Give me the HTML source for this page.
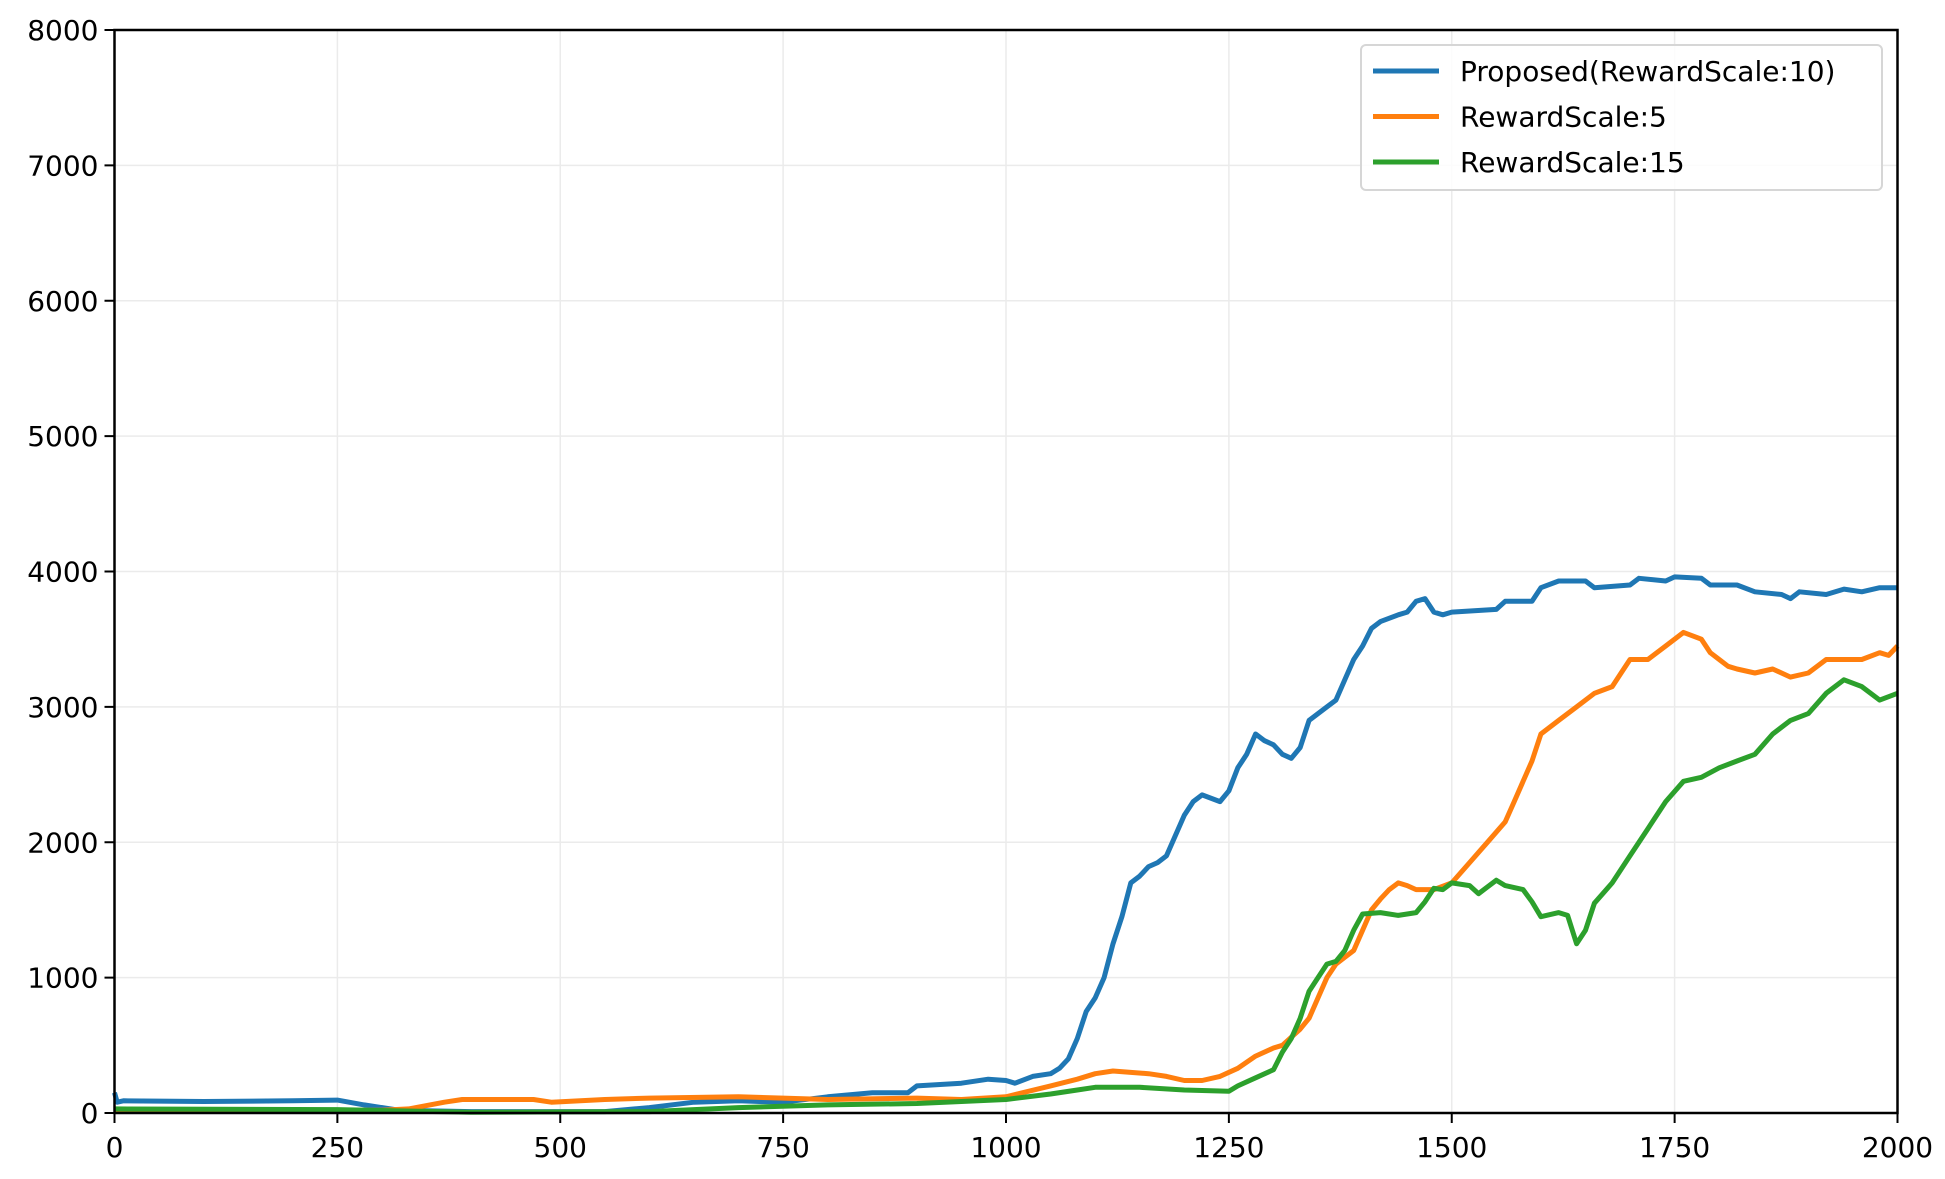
<!DOCTYPE html>
<html><head><meta charset="utf-8"><style>
html,body{margin:0;padding:0;background:#fff;}
svg{display:block;font-family:"DejaVu Sans","Liberation Sans",sans-serif;}
</style></head><body>
<svg id="chart" width="1945" height="1179" viewBox="0 0 1945 1179" xmlns="http://www.w3.org/2000/svg">
<g id="grid"></g>
<g id="series"></g>
<rect x="114.5" y="30" width="1783" height="1083" fill="none" stroke="#000" stroke-width="2.5"/>
<g id="ticks"></g>
<g id="legend"></g>
</svg>
<script>
const xTicks=[0,250,500,750,1000,1250,1500,1750,2000];
const yTicks=[0,1000,2000,3000,4000,5000,6000,7000,8000];
const seriesNames=["Proposed(RewardScale:10)","RewardScale:5","RewardScale:15"];
const blueX=[0,3,10,100,200,250,280,320,400,500,550,600,650,700,750,800,850,890,900,950,980,1000,1010,1030,1050,1060,1070,1080,1090,1100,1110,1120,1130,1140,1150,1160,1170,1180,1190,1200,1210,1220,1240,1250,1260,1270,1280,1290,1300,1310,1320,1330,1340,1350,1360,1370,1380,1390,1400,1410,1420,1440,1450,1460,1470,1480,1490,1500,1550,1560,1590,1600,1620,1650,1660,1700,1710,1740,1750,1780,1790,1820,1840,1870,1880,1890,1920,1940,1960,1980,2000];
const blueY=[150,80,90,85,90,95,60,20,10,10,10,40,80,90,80,120,150,150,200,220,250,240,220,270,290,330,400,550,750,850,1000,1250,1450,1700,1750,1820,1850,1900,2050,2200,2300,2350,2300,2380,2550,2650,2800,2750,2720,2650,2620,2700,2900,2950,3000,3050,3200,3350,3450,3580,3630,3680,3700,3780,3800,3700,3680,3700,3720,3780,3780,3880,3930,3930,3880,3900,3950,3930,3960,3950,3900,3900,3850,3830,3800,3850,3830,3870,3850,3880,3880];
const orangeX=[0,300,330,370,390,470,490,550,600,700,750,800,900,950,1000,1050,1080,1100,1120,1140,1160,1180,1200,1220,1240,1260,1280,1300,1310,1320,1330,1340,1350,1360,1370,1380,1390,1400,1410,1420,1430,1440,1450,1460,1480,1500,1520,1540,1560,1570,1580,1590,1600,1620,1640,1660,1680,1690,1700,1720,1740,1760,1780,1790,1800,1810,1820,1840,1860,1880,1900,1920,1940,1960,1980,1990,2000];
const orangeY=[20,20,30,80,100,100,80,100,110,120,110,100,110,100,120,200,250,290,310,300,290,270,240,240,270,330,420,480,500,560,620,700,850,1000,1100,1150,1200,1350,1500,1580,1650,1700,1680,1650,1650,1700,1850,2000,2150,2300,2450,2600,2800,2900,3000,3100,3150,3250,3350,3350,3450,3550,3500,3400,3350,3300,3280,3250,3280,3220,3250,3350,3350,3350,3400,3380,3450];
const greenX=[0,250,400,600,700,800,900,1000,1050,1080,1100,1150,1200,1250,1260,1280,1300,1310,1320,1330,1340,1350,1360,1370,1380,1390,1400,1420,1440,1460,1470,1480,1490,1500,1520,1530,1550,1560,1580,1590,1600,1620,1630,1640,1650,1660,1680,1700,1720,1740,1760,1780,1800,1820,1840,1860,1880,1900,1920,1940,1960,1980,2000];
const greenY=[30,25,5,10,40,60,70,100,140,170,190,190,170,160,200,260,320,450,550,700,900,1000,1100,1120,1200,1350,1470,1480,1460,1480,1560,1660,1650,1700,1680,1620,1720,1680,1650,1560,1450,1480,1460,1250,1350,1550,1700,1900,2100,2300,2450,2480,2550,2600,2650,2800,2900,2950,3100,3200,3150,3050,3100];
const colors=["#1f77b4","#ff7f0e","#2ca02c"];
const X0=114.5,X1=1897.5,Y0=1113,Y1=30;
const sx=v=>X0+(v-0)/(2000-0)*(X1-X0);
const sy=v=>Y0-(v-0)/(8000-0)*(Y0-Y1);
const NS="http://www.w3.org/2000/svg";
function mk(t,a,p){const e=document.createElementNS(NS,t);for(const k in a)e.setAttribute(k,a[k]);p.appendChild(e);return e;}
const grid=document.getElementById('grid'),ticks=document.getElementById('ticks'),ser=document.getElementById('series'),leg=document.getElementById('legend');
xTicks.forEach(v=>{const x=sx(v);
 const g=mk('line',{x1:x,x2:x,y1:Y1,y2:Y0,stroke:'#ebebeb','stroke-width':1.5},grid);
 
 
 const t=mk('line',{x1:x,x2:x,y1:Y0,y2:Y0+10,stroke:'#000','stroke-width':2},ticks);
 
 
 const l=mk('text',{x:x,y:Y0+44,'text-anchor':'middle','font-size':28,fill:'#000'},ticks);l.textContent=v;
 
 
});
yTicks.forEach(v=>{const y=sy(v);
 const g=mk('line',{x1:X0,x2:X1,y1:y,y2:y,stroke:'#ebebeb','stroke-width':1.5},grid);
 
 
 const t=mk('line',{x1:X0-10,x2:X0,y1:y,y2:y,stroke:'#000','stroke-width':2},ticks);
 
 
 const l=mk('text',{x:X0-16,y:y+10,'text-anchor':'end','font-size':28,fill:'#000'},ticks);l.textContent=v;
 
 
});
const data=[[blueX,blueY],[orangeX,orangeY],[greenX,greenY]];
const snames=['series-proposed','series-rewardscale-5','series-rewardscale-15'];
data.forEach((d,i)=>{
 const pts=d[0].map((x,j)=>sx(x).toFixed(1)+','+sy(d[1][j]).toFixed(1)).join(' ');
 const p=mk('polyline',{points:pts,fill:'none',stroke:colors[i],'stroke-width':5,'stroke-linejoin':'round'},ser);
 
 
});
const box=mk('rect',{x:1361,y:45,width:521,height:145,rx:5,fill:'#fff','fill-opacity':0.85,stroke:'#d6d6d6','stroke-width':2},leg);


seriesNames.forEach((n,i)=>{const y=71+i*45.5;
 const l=mk('line',{x1:1373,x2:1439,y1:y,y2:y,stroke:colors[i],'stroke-width':5},leg);
 
 
 const t=mk('text',{x:1460,y:y+10,'font-size':28,fill:'#000'},leg);t.textContent=n;
 
 
});
</script>
</body></html>
